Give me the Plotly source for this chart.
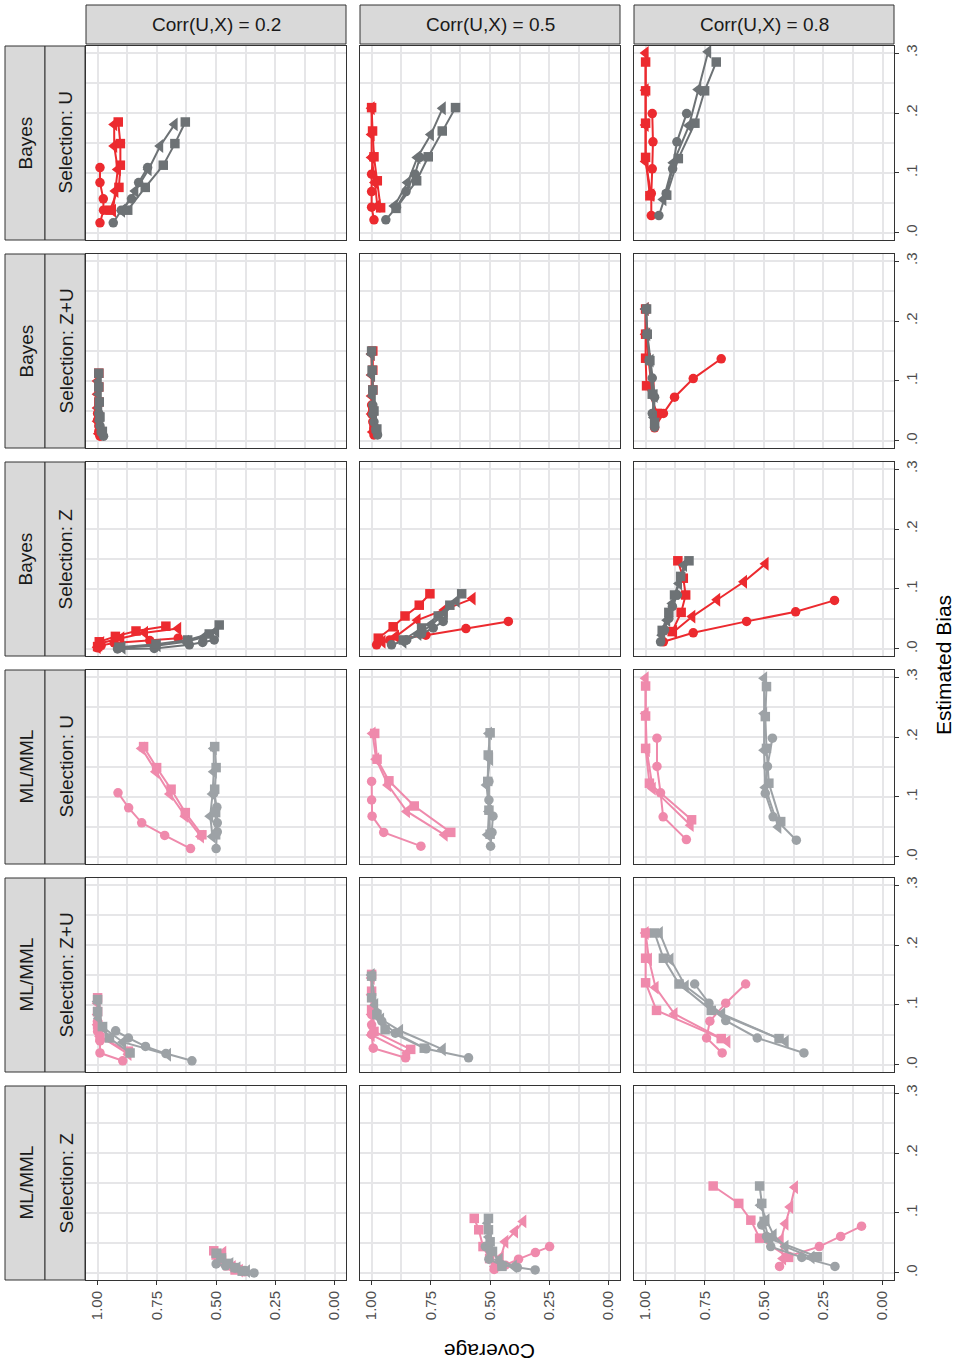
import plotly.graph_objects as go

W, H = 955, 1367

# ---------------- labels ----------------
corr_labels = ["Corr(U,X) = 0.2", "Corr(U,X) = 0.5", "Corr(U,X) = 0.8"]
method_labels = ["Bayes", "Bayes", "Bayes", "ML/MML", "ML/MML", "ML/MML"]
selection_labels = ["Selection: U", "Selection: Z+U", "Selection: Z",
                    "Selection: U", "Selection: Z+U", "Selection: Z"]
cov_ticks = [1.0, 0.75, 0.5, 0.25, 0.0]
cov_ticktext = ["1.00", "0.75", "0.50", "0.25", "0.00"]
bias_ticks = [0.0, 0.1, 0.2, 0.3]
bias_ticktext = [".0", ".1", ".2", ".3"]

# series order in each panel: [colour circle, colour triangle, colour square,
#                              grey circle, grey triangle, grey square]

# ---------- Bayes, Selection: U ----------
cov_bayes_U_02 = [[0.99, 0.975, 0.976, 0.99, 0.99], [0.935, 0.925, 0.915, 0.93, 0.93],
                  [0.948, 0.91, 0.904, 0.904, 0.913], [0.934, 0.9, 0.857, 0.827, 0.789],
                  [0.897, 0.841, 0.785, 0.736, 0.675], [0.873, 0.799, 0.723, 0.674, 0.63]]
bias_bayes_U_02 = [[0.017, 0.038, 0.057, 0.084, 0.109], [0.037, 0.07, 0.106, 0.145, 0.181],
                   [0.038, 0.076, 0.113, 0.149, 0.185], [0.017, 0.038, 0.057, 0.084, 0.109],
                   [0.037, 0.07, 0.106, 0.145, 0.181], [0.038, 0.076, 0.113, 0.149, 0.185]]
cov_bayes_U_05 = [[0.99, 1.0, 1.0, 1.0, 0.995], [0.976, 0.986, 1.0, 1.0, 1.0],
                  [0.962, 0.976, 0.99, 0.996, 1.0], [0.94, 0.895, 0.855, 0.817, 0.796],
                  [0.904, 0.848, 0.807, 0.75, 0.70], [0.897, 0.81, 0.761, 0.702, 0.646]]
bias_bayes_U_05 = [[0.022, 0.043, 0.069, 0.098, 0.126], [0.045, 0.084, 0.126, 0.164, 0.208],
                   [0.042, 0.087, 0.127, 0.17, 0.209], [0.022, 0.043, 0.069, 0.098, 0.126],
                   [0.045, 0.084, 0.126, 0.164, 0.208], [0.041, 0.087, 0.127, 0.17, 0.209]]
cov_bayes_U_08 = [[0.976, 0.976, 0.972, 0.969, 0.972], [0.976, 1.0, 1.0, 1.0, 1.0],
                  [0.982, 1.0, 1.0, 1.0, 1.0], [0.944, 0.913, 0.886, 0.868, 0.827],
                  [0.925, 0.883, 0.817, 0.778, 0.736], [0.911, 0.862, 0.792, 0.751, 0.702]]
bias_bayes_U_08 = [[0.029, 0.066, 0.107, 0.152, 0.199], [0.063, 0.119, 0.18, 0.238, 0.30],
                   [0.062, 0.126, 0.183, 0.237, 0.285], [0.029, 0.066, 0.107, 0.152, 0.199],
                   [0.056, 0.117, 0.179, 0.239, 0.302], [0.063, 0.124, 0.183, 0.237, 0.285]]

# ---------- Bayes, Selection: Z+U ----------
cov_bayes_ZU_02 = [[0.99, 0.995, 0.995, 1.0, 1.0], [0.995, 1.0, 1.0, 1.0, 1.0],
                   [0.99, 0.995, 0.995, 0.995, 0.995], [0.975, 0.985, 0.99, 0.993, 0.995],
                   [0.98, 0.99, 0.993, 0.995, 0.995], [0.98, 0.99, 0.993, 0.995, 0.995]]
bias_bayes_ZU_02 = [[0.008, 0.016, 0.025, 0.035, 0.046], [0.012, 0.033, 0.055, 0.078, 0.1],
                    [0.016, 0.04, 0.065, 0.09, 0.113], [0.008, 0.016, 0.025, 0.035, 0.046],
                    [0.012, 0.033, 0.055, 0.078, 0.1], [0.016, 0.04, 0.065, 0.09, 0.113]]
cov_bayes_ZU_05 = [[0.99, 0.99, 0.995, 1.0, 1.0], [0.995, 1.0, 1.0, 1.0, 1.0],
                   [0.99, 0.995, 0.995, 0.995, 0.995], [0.975, 0.983, 0.99, 0.995, 0.995],
                   [0.978, 0.99, 0.995, 0.998, 1.0], [0.978, 0.99, 0.995, 0.998, 1.0]]
bias_bayes_ZU_05 = [[0.01, 0.02, 0.032, 0.045, 0.06], [0.015, 0.045, 0.075, 0.11, 0.145],
                    [0.02, 0.05, 0.085, 0.118, 0.15], [0.01, 0.02, 0.032, 0.045, 0.06],
                    [0.015, 0.045, 0.075, 0.11, 0.145], [0.02, 0.05, 0.085, 0.118, 0.15]]
cov_bayes_ZU_08 = [[0.962, 0.925, 0.878, 0.799, 0.681], [0.96, 0.975, 0.99, 1.0, 1.0],
                   [0.951, 0.996, 1.0, 1.0, 1.0], [0.962, 0.972, 0.962, 0.972, 0.986],
                   [0.965, 0.962, 0.979, 0.993, 1.0], [0.962, 0.972, 0.982, 0.993, 0.996]]
bias_bayes_ZU_08 = [[0.022, 0.046, 0.073, 0.104, 0.137], [0.04, 0.09, 0.135, 0.178, 0.22],
                    [0.046, 0.092, 0.138, 0.178, 0.22], [0.023, 0.046, 0.073, 0.105, 0.134],
                    [0.039, 0.075, 0.134, 0.178, 0.22], [0.031, 0.078, 0.134, 0.178, 0.22]]

# ---------- Bayes, Selection: Z ----------
cov_bayes_Z_02 = [[1.0, 0.985, 0.93, 0.78, 0.66], [1.0, 0.985, 0.9, 0.8, 0.66],
                  [1.0, 0.993, 0.925, 0.838, 0.712], [0.916, 0.761, 0.613, 0.557, 0.508],
                  [0.895, 0.747, 0.627, 0.55, 0.5], [0.91, 0.754, 0.62, 0.529, 0.487]]
bias_bayes_Z_02 = [[0.002, 0.006, 0.01, 0.014, 0.018], [0.003, 0.01, 0.018, 0.027, 0.034],
                   [0.004, 0.012, 0.021, 0.03, 0.038], [0.0, 0.001, 0.007, 0.011, 0.015],
                   [0.002, 0.006, 0.012, 0.02, 0.03], [0.003, 0.008, 0.015, 0.025, 0.04]]
cov_bayes_Z_05 = [[0.979, 0.923, 0.771, 0.602, 0.423], [0.954, 0.897, 0.806, 0.693, 0.574],
                  [0.972, 0.909, 0.859, 0.799, 0.754], [0.916, 0.852, 0.789, 0.74, 0.698],
                  [0.866, 0.803, 0.747, 0.691, 0.641], [0.866, 0.789, 0.719, 0.67, 0.62]]
bias_bayes_Z_05 = [[0.007, 0.015, 0.023, 0.034, 0.046], [0.012, 0.021, 0.048, 0.065, 0.084],
                   [0.018, 0.037, 0.055, 0.073, 0.092], [0.007, 0.015, 0.025, 0.035, 0.046],
                   [0.012, 0.025, 0.04, 0.06, 0.08], [0.015, 0.035, 0.055, 0.073, 0.092]]
cov_bayes_Z_08 = [[0.925, 0.799, 0.574, 0.367, 0.203], [0.88, 0.803, 0.698, 0.585, 0.494],
                  [0.888, 0.85, 0.831, 0.841, 0.864], [0.937, 0.92, 0.902, 0.887, 0.866],
                  [0.93, 0.909, 0.887, 0.859, 0.838], [0.93, 0.902, 0.878, 0.852, 0.817]]
bias_bayes_Z_08 = [[0.012, 0.027, 0.046, 0.062, 0.081], [0.029, 0.054, 0.082, 0.112, 0.142],
                   [0.029, 0.061, 0.09, 0.118, 0.147], [0.012, 0.032, 0.051, 0.071, 0.09],
                   [0.023, 0.048, 0.076, 0.109, 0.14], [0.031, 0.061, 0.09, 0.121, 0.147]]

# ---------- ML/MML, Selection: U ----------
cov_ml_U_02 = [[0.608, 0.717, 0.814, 0.869, 0.914], [0.564, 0.63, 0.695, 0.754, 0.814],
               [0.56, 0.63, 0.69, 0.751, 0.806], [0.5, 0.495, 0.495, 0.497, 0.51],
               [0.515, 0.525, 0.515, 0.51, 0.51], [0.502, 0.502, 0.506, 0.5, 0.506]]
bias_ml_U_02 = [[0.014, 0.036, 0.057, 0.082, 0.107], [0.034, 0.068, 0.105, 0.142, 0.181],
                [0.037, 0.074, 0.113, 0.149, 0.184], [0.014, 0.042, 0.057, 0.083, 0.106],
                [0.034, 0.068, 0.105, 0.142, 0.181], [0.037, 0.074, 0.113, 0.149, 0.184]]
cov_ml_U_05 = [[0.792, 0.949, 0.998, 1.0, 1.0], [0.692, 0.851, 0.931, 0.981, 0.996],
               [0.666, 0.82, 0.927, 0.977, 0.987], [0.498, 0.492, 0.488, 0.505, 0.505],
               [0.51, 0.505, 0.515, 0.5, 0.505], [0.5, 0.505, 0.51, 0.508, 0.5]]
bias_ml_U_05 = [[0.018, 0.041, 0.068, 0.095, 0.126], [0.037, 0.076, 0.12, 0.163, 0.206],
                [0.041, 0.085, 0.127, 0.163, 0.206], [0.018, 0.041, 0.068, 0.095, 0.126],
                [0.037, 0.076, 0.12, 0.163, 0.206], [0.038, 0.078, 0.126, 0.17, 0.207]]
cov_ml_U_08 = [[0.828, 0.926, 0.937, 0.952, 0.952], [0.81, 0.97, 0.995, 1.0, 1.0],
               [0.806, 0.984, 1.0, 1.0, 1.0], [0.364, 0.462, 0.495, 0.486, 0.465],
               [0.44, 0.495, 0.5, 0.5, 0.5], [0.43, 0.48, 0.49, 0.495, 0.49]]
bias_ml_U_08 = [[0.029, 0.067, 0.107, 0.151, 0.198], [0.053, 0.114, 0.178, 0.239, 0.298],
                [0.062, 0.123, 0.181, 0.235, 0.285], [0.028, 0.067, 0.106, 0.151, 0.198],
                [0.05, 0.116, 0.178, 0.239, 0.298], [0.059, 0.123, 0.181, 0.234, 0.284]]

# ---------- ML/MML, Selection: Z+U ----------
cov_ml_ZU_02 = [[0.894, 0.99, 0.99, 1.0, 1.0], [0.87, 0.99, 1.0, 1.0, 1.0],
                [0.87, 0.99, 1.0, 1.0, 1.0], [0.602, 0.712, 0.798, 0.87, 0.924],
                [0.703, 0.893, 0.972, 0.995, 1.0], [0.863, 0.95, 0.98, 1.0, 1.0]]
bias_ml_ZU_02 = [[0.007, 0.02, 0.04, 0.056, 0.073], [0.018, 0.048, 0.067, 0.084, 0.103],
                 [0.023, 0.046, 0.067, 0.089, 0.112], [0.007, 0.019, 0.031, 0.045, 0.057],
                 [0.017, 0.038, 0.061, 0.078, 0.106], [0.02, 0.045, 0.064, 0.089, 0.109]]
cov_ml_ZU_05 = [[0.857, 0.993, 1.0, 1.0, 1.0], [0.85, 1.0, 1.0, 1.0, 1.0],
                [0.835, 0.99, 1.0, 1.0, 1.0], [0.591, 0.77, 0.9, 0.957, 0.978],
                [0.70, 0.88, 0.96, 0.985, 1.0], [0.778, 0.943, 0.978, 1.0, 1.0]]
bias_ml_ZU_05 = [[0.012, 0.028, 0.051, 0.067, 0.084], [0.02, 0.05, 0.084, 0.117, 0.145],
                 [0.026, 0.056, 0.092, 0.123, 0.151], [0.012, 0.027, 0.053, 0.073, 0.087],
                 [0.026, 0.057, 0.076, 0.1, 0.15], [0.028, 0.059, 0.084, 0.112, 0.148]]
cov_ml_ZU_08 = [[0.677, 0.743, 0.729, 0.662, 0.578], [0.655, 0.878, 0.958, 0.986, 1.0],
                [0.681, 0.954, 1.0, 1.0, 1.0], [0.332, 0.529, 0.662, 0.733, 0.793],
                [0.409, 0.677, 0.831, 0.895, 0.94], [0.437, 0.723, 0.859, 0.925, 0.962]]
bias_ml_ZU_08 = [[0.02, 0.045, 0.073, 0.103, 0.135], [0.039, 0.085, 0.129, 0.176, 0.22],
                 [0.044, 0.091, 0.137, 0.178, 0.22], [0.02, 0.045, 0.074, 0.103, 0.135],
                 [0.039, 0.085, 0.131, 0.176, 0.22], [0.044, 0.091, 0.135, 0.178, 0.22]]

# ---------- ML/MML, Selection: Z ----------
cov_ml_Z_02 = [[0.49, 0.46, 0.43, 0.40, 0.38], [0.47, 0.48, 0.47, 0.43, 0.40],
               [0.51, 0.5, 0.49, 0.45, 0.42], [0.5, 0.46, 0.42, 0.38, 0.34],
               [0.49, 0.47, 0.44, 0.41, 0.37], [0.5, 0.48, 0.45, 0.42, 0.39]]
bias_ml_Z_02 = [[0.018, 0.014, 0.01, 0.006, 0.002], [0.034, 0.025, 0.018, 0.01, 0.004],
                [0.037, 0.03, 0.022, 0.012, 0.005], [0.015, 0.012, 0.008, 0.004, 0.0],
                [0.03, 0.022, 0.015, 0.008, 0.003], [0.033, 0.025, 0.016, 0.009, 0.003]]
cov_ml_Z_05 = [[0.483, 0.436, 0.38, 0.309, 0.249], [0.48, 0.455, 0.436, 0.395, 0.36],
               [0.477, 0.502, 0.53, 0.548, 0.567], [0.52, 0.505, 0.45, 0.385, 0.31],
               [0.4, 0.46, 0.5, 0.505, 0.51], [0.45, 0.49, 0.5, 0.507, 0.507]]
bias_ml_Z_05 = [[0.006, 0.013, 0.023, 0.034, 0.044], [0.011, 0.026, 0.052, 0.069, 0.086],
                [0.011, 0.024, 0.044, 0.072, 0.091], [0.044, 0.023, 0.013, 0.009, 0.005],
                [0.011, 0.022, 0.038, 0.06, 0.083], [0.011, 0.036, 0.052, 0.072, 0.091]]
cov_ml_Z_08 = [[0.435, 0.397, 0.267, 0.177, 0.089], [0.42, 0.43, 0.41, 0.39, 0.37],
               [0.397, 0.519, 0.556, 0.607, 0.715], [0.201, 0.341, 0.472, 0.49, 0.51],
               [0.30, 0.41, 0.46, 0.49, 0.515], [0.276, 0.481, 0.5, 0.51, 0.519]]
bias_ml_Z_08 = [[0.011, 0.028, 0.044, 0.061, 0.078], [0.024, 0.055, 0.082, 0.11, 0.143],
                [0.026, 0.058, 0.088, 0.116, 0.145], [0.011, 0.026, 0.044, 0.061, 0.08],
                [0.026, 0.044, 0.063, 0.088, 0.113], [0.027, 0.058, 0.086, 0.116, 0.145]]

panel_cov = [[cov_bayes_U_02, cov_bayes_U_05, cov_bayes_U_08],
             [cov_bayes_ZU_02, cov_bayes_ZU_05, cov_bayes_ZU_08],
             [cov_bayes_Z_02, cov_bayes_Z_05, cov_bayes_Z_08],
             [cov_ml_U_02, cov_ml_U_05, cov_ml_U_08],
             [cov_ml_ZU_02, cov_ml_ZU_05, cov_ml_ZU_08],
             [cov_ml_Z_02, cov_ml_Z_05, cov_ml_Z_08]]
panel_bias = [[bias_bayes_U_02, bias_bayes_U_05, bias_bayes_U_08],
              [bias_bayes_ZU_02, bias_bayes_ZU_05, bias_bayes_ZU_08],
              [bias_bayes_Z_02, bias_bayes_Z_05, bias_bayes_Z_08],
              [bias_ml_U_02, bias_ml_U_05, bias_ml_U_08],
              [bias_ml_ZU_02, bias_ml_ZU_05, bias_ml_ZU_08],
              [bias_ml_Z_02, bias_ml_Z_05, bias_ml_Z_08]]

# ---------------- styling ----------------
RED, DGREY = "#EC2A2F", "#6D7275"
PINK, LGREY = "#EF8AAC", "#9DA2A6"
SYMBOLS = ["circle", "triangle-left", "square"]
SIZES = [9.5, 12, 9.5]
FONT = "Liberation Sans, Arial, sans-serif"
GRID = "#E6E6E8"

PL = [86, 360, 634]
PW = 260
PT = [46 + 208 * r for r in range(6)]
PH = 194


def fx(px):
    return px / W


def fy(py):
    return 1 - py / H


fig = go.Figure()
layout = {}
for r in range(6):
    for c in range(3):
        idx = r * 3 + c + 1
        xa = "x" if idx == 1 else f"x{idx}"
        ya = "y" if idx == 1 else f"y{idx}"
        col_main = RED if r < 3 else PINK
        col_grey = DGREY if r < 3 else LGREY
        covs = panel_cov[r][c]
        biases = panel_bias[r][c]
        for s in range(6):
            color = col_main if s < 3 else col_grey
            fig.add_trace(go.Scatter(
                x=covs[s], y=biases[s], mode="lines+markers",
                line=dict(color=color, width=2),
                marker=dict(symbol=SYMBOLS[s % 3], size=SIZES[s % 3], color=color,
                            line=dict(width=0)),
                xaxis=xa, yaxis=ya, showlegend=False, hoverinfo="x+y"))
        xkey = "xaxis" if idx == 1 else f"xaxis{idx}"
        ykey = "yaxis" if idx == 1 else f"yaxis{idx}"
        layout[xkey] = dict(
            domain=[fx(PL[c]), fx(PL[c] + PW)], anchor=ya,
            range=[1.049, -0.048], tickvals=cov_ticks, ticktext=cov_ticktext,
            showticklabels=(r == 5), ticks="outside" if r == 5 else "",
            ticklen=4, tickcolor="#333333", tickwidth=1, tickangle=-90,
            tickfont=dict(family=FONT, size=15, color="#4D4D4D"),
            showgrid=True, gridcolor=GRID, gridwidth=2,
            minor=dict(dtick=0.125, tick0=0, showgrid=True,
                       gridcolor=GRID, gridwidth=1.5),
            showline=True, mirror=True, linecolor="#333333", linewidth=1,
            zeroline=False, fixedrange=True)
        layout[ykey] = dict(
            domain=[fy(PT[r] + PH), fy(PT[r])], anchor=xa, side="right",
            range=[-0.0117, 0.3117], tickvals=bias_ticks, ticktext=bias_ticktext,
            showticklabels=(c == 2), ticks="outside" if c == 2 else "",
            ticklen=4, tickcolor="#333333", tickwidth=1, tickangle=-90,
            tickfont=dict(family=FONT, size=15, color="#4D4D4D"),
            showgrid=True, gridcolor=GRID, gridwidth=2,
            minor=dict(dtick=0.05, tick0=0, showgrid=True,
                       gridcolor=GRID, gridwidth=1.5),
            showline=True, mirror=True, linecolor="#333333", linewidth=1,
            zeroline=False, fixedrange=True)

shapes = []
annotations = []
STRIP_FILL = "#D9D9D9"
STRIP_LINE = "#333333"
TXT = dict(xref="paper", yref="paper", showarrow=False,
           xanchor="center", yanchor="middle")
STRIP_FONT = dict(family=FONT, size=19, color="#1A1A1A")
# column strips
for c in range(3):
    shapes.append(dict(type="rect", xref="paper", yref="paper",
                       x0=fx(PL[c]), x1=fx(PL[c] + PW), y0=fy(44), y1=fy(5),
                       fillcolor=STRIP_FILL, line=dict(color=STRIP_LINE, width=1)))
    annotations.append(dict(x=fx(PL[c] + PW / 2), y=fy(24.5), text=corr_labels[c],
                            font=STRIP_FONT, **TXT))
# row strips
for r in range(6):
    shapes.append(dict(type="rect", xref="paper", yref="paper",
                       x0=fx(5), x1=fx(45), y0=fy(PT[r] + PH), y1=fy(PT[r]),
                       fillcolor=STRIP_FILL, line=dict(color=STRIP_LINE, width=1)))
    shapes.append(dict(type="rect", xref="paper", yref="paper",
                       x0=fx(45), x1=fx(85), y0=fy(PT[r] + PH), y1=fy(PT[r]),
                       fillcolor=STRIP_FILL, line=dict(color=STRIP_LINE, width=1)))
    annotations.append(dict(x=fx(25.5), y=fy(PT[r] + PH / 2), text=method_labels[r],
                            textangle=-90, font=STRIP_FONT, **TXT))
    annotations.append(dict(x=fx(65.5), y=fy(PT[r] + PH / 2), text=selection_labels[r],
                            textangle=-90, font=STRIP_FONT, **TXT))
# axis titles
annotations.append(dict(x=fx(490), y=fy(1352), text="Coverage", textangle=180,
                        font=dict(family=FONT, size=21, color="#000000"), **TXT))
annotations.append(dict(x=fx(943), y=fy(665), text="Estimated Bias", textangle=-90,
                        font=dict(family=FONT, size=21, color="#000000"), **TXT))

fig.update_layout(width=W, height=H, margin=dict(l=0, r=0, t=0, b=0),
                  paper_bgcolor="white", plot_bgcolor="white",
                  shapes=shapes, annotations=annotations, **layout)
fig.write_html("out.html", config={"displayModeBar": False},
               post_script="document.body.style.margin='0';"
                           "document.body.style.padding='0';"
                           "document.body.style.overflow='hidden';")
